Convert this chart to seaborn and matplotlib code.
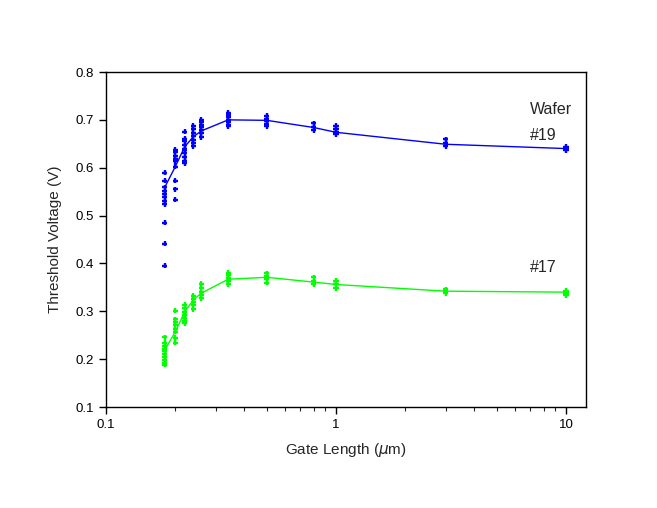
import numpy as np
import pandas as pd
import matplotlib
matplotlib.use("Agg")
import matplotlib.pyplot as plt
import seaborn as sns
from matplotlib.ticker import LogLocator, FixedLocator, NullFormatter, FuncFormatter

# ---------------- data ----------------
gate_lengths = [0.18, 0.20, 0.22, 0.24, 0.26, 0.34, 0.5, 0.8, 1.0, 3.0, 10.0]

w19_points = {
    0.18: [0.590, 0.573, 0.559, 0.552, 0.545, 0.538, 0.531, 0.524, 0.485, 0.441, 0.395],
    0.20: [0.638, 0.632, 0.625, 0.619, 0.613, 0.602, 0.573, 0.555, 0.533],
    0.22: [0.675, 0.661, 0.655, 0.648, 0.640, 0.637, 0.630, 0.622, 0.615, 0.609],
    0.24: [0.687, 0.680, 0.673, 0.666, 0.658, 0.651, 0.645],
    0.26: [0.700, 0.695, 0.690, 0.686, 0.679, 0.672, 0.664],
    0.34: [0.715, 0.710, 0.705, 0.700, 0.695, 0.690, 0.687],
    0.5:  [0.708, 0.702, 0.697, 0.692, 0.687],
    0.8:  [0.693, 0.686, 0.679],
    1.0:  [0.687, 0.680, 0.674, 0.670],
    3.0:  [0.659, 0.652, 0.645],
    10.0: [0.644, 0.640, 0.636],
}
w17_points = {
    0.18: [0.246, 0.234, 0.228, 0.222, 0.216, 0.210, 0.204, 0.198, 0.192, 0.188],
    0.20: [0.301, 0.283, 0.277, 0.271, 0.262, 0.257, 0.244, 0.234],
    0.22: [0.313, 0.306, 0.299, 0.292, 0.285, 0.279, 0.275],
    0.24: [0.332, 0.326, 0.320, 0.313, 0.304],
    0.26: [0.357, 0.348, 0.340, 0.333, 0.327],
    0.34: [0.381, 0.375, 0.369, 0.363, 0.357],
    0.5:  [0.379, 0.373, 0.367, 0.360],
    0.8:  [0.371, 0.364, 0.357],
    1.0:  [0.364, 0.356, 0.348],
    3.0:  [0.346, 0.342, 0.338],
    10.0: [0.343, 0.339, 0.334],
}
w19_line = [0.559, 0.602, 0.644, 0.665, 0.677, 0.700, 0.699, 0.684, 0.674, 0.649, 0.640]
w17_line = [0.219, 0.257, 0.299, 0.324, 0.338, 0.367, 0.371, 0.361, 0.356, 0.342, 0.340]

y_ticks = [0.1, 0.2, 0.3, 0.4, 0.5, 0.6, 0.7, 0.8]
x_tick_labels = {0.1: "0.1", 1: "1", 10: "10"}

BLUE = "#0000ff"
GREEN = "#00ff00"

# ---------------- build tables ----------------
def to_df(d, wafer):
    rows = [(g, v, wafer) for g, vals in d.items() for v in vals]
    return pd.DataFrame(rows, columns=["L", "Vt", "wafer"])

pts = pd.concat([to_df(w19_points, "#19"), to_df(w17_points, "#17")], ignore_index=True)
lines = pd.DataFrame({
    "L": gate_lengths * 2,
    "Vt": w19_line + w17_line,
    "wafer": ["#19"] * len(gate_lengths) + ["#17"] * len(gate_lengths),
})
palette = {"#19": BLUE, "#17": GREEN}

# ---------------- plot ----------------
sns.set_style("ticks")
plt.rcParams["font.family"] = ["Liberation Sans", "DejaVu Sans"]

fig = plt.figure(figsize=(6.57, 5.08), dpi=100)
ax = fig.add_axes([106 / 657, 1 - 407 / 508, 480 / 657, 335 / 508])

sns.lineplot(data=lines, x="L", y="Vt", hue="wafer", palette=palette,
             linewidth=1.0, legend=False, ax=ax, estimator=None, sort=True)
sns.scatterplot(data=pts, x="L", y="Vt", hue="wafer", palette=palette,
                marker="+", s=14, linewidth=1.7, legend=False, ax=ax)

ax.set_xscale("log")
ax.set_xlim(0.1, 10 ** 1.087)
ax.set_ylim(0.1, 0.8)
ax.set_yticks(y_ticks)
ax.set_yticklabels([f"{t:.1f}" for t in y_ticks])
ax.xaxis.set_major_locator(FixedLocator(list(x_tick_labels.keys())))
ax.xaxis.set_major_formatter(FuncFormatter(lambda v, p: x_tick_labels.get(round(v, 3) if v < 1 else int(round(v)), "")))
ax.xaxis.set_minor_locator(LogLocator(base=10, subs=np.arange(2, 10)))
ax.xaxis.set_minor_formatter(NullFormatter())

ax.tick_params(axis="both", which="major", direction="out", length=5, width=1,
               labelsize=9.5, colors="black", pad=4)
ax.tick_params(axis="x", which="minor", direction="out", length=3, width=0.8)
for s in ax.spines.values():
    s.set_linewidth(1.0)
    s.set_color("black")

ax.set_xlabel("Gate Length ($\\mu$m)", fontsize=11, labelpad=7)
ax.set_ylabel("Threshold Voltage (V)", fontsize=11, labelpad=9)

ax.text(0.883, 0.889, "Wafer", transform=ax.transAxes, fontsize=11.5, ha="left", va="center")
ax.text(0.883, 0.809, "#19", transform=ax.transAxes, fontsize=11.5, ha="left", va="center")
ax.text(0.883, 0.415, "#17", transform=ax.transAxes, fontsize=11.5, ha="left", va="center")

fig.savefig("out.png", dpi=100)
